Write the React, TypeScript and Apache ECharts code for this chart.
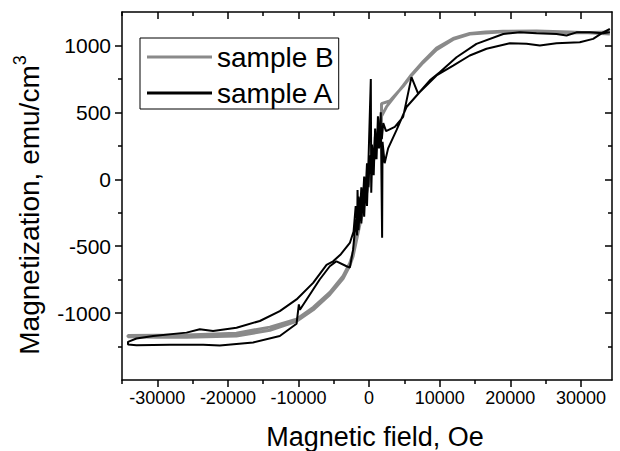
import React, { useEffect, useRef } from "react";
import * as echarts from "echarts";

const FONT = "'Liberation Sans', Arial, Helvetica, sans-serif";

const X_MIN = -35000;
const X_MAX = 34400;
const Y_MIN = -1500;
const Y_MAX = 1250;

const fieldMajorTicks = [-30000, -20000, -10000, 0, 10000, 20000, 30000];
const fieldMinorTicks = [-35000, -25000, -15000, -5000, 5000, 15000, 25000];
const magMajorTicks = [-1000, -500, 0, 500, 1000];
const magMinorTicks = [-1250, -750, -250, 250, 750];

const legendNames = ["sample B", "sample A"];
const xTitle = "Magnetic field, Oe";
const yTitle = "Magnetization, emu/cm";

// sample B: descending branch then ascending branch
const sampleBField = [
  34100, 31000, 28400, 23700, 18980, 16500, 14260, 11900, 9550, 7650, 6000, 4820, 3500, 2500, 1750,
  -2270, -2730, -3680, -5570, -7920, -10280, -14060, -18800, -25880, -30000, -34150,
  -34150, -30000, -25880, -18800, -14060, -10280, -7920, -5570, -3680, -2730, -2270,
  1750, 1750, 2930, 4820, 6000, 7650, 9550, 11900, 14260, 18980, 23700, 28400, 34100,
];
const sampleBMag = [
  1086, 1095, 1100, 1108, 1106, 1100, 1090, 1052, 980, 880, 782, 700, 612, 545, 470,
  -551, -625, -722, -845, -958, -1045, -1105, -1150, -1163, -1165, -1168,
  -1176, -1180, -1180, -1172, -1128, -1062, -976, -862, -742, -645, -575,
  416, 565, 585, 695, 776, 872, 968, 1045, 1085, 1102, 1104, 1094, 1100,
];

// sample A: descending branch then ascending branch
const sampleAField = [
  34100, 33100, 31260, 29370, 27960, 26540, 23700, 21350, 19000, 15200, 12380, 10000, 8600, 6940, 6000,
  4820, 3640, 2400, 2000, 1800, 1600, 1400, 1200, 1000, 800, 600, 400, 250, 100, -100, -300, -500, -700,
  -900, -1100, -1300, -1500, -1700, -1900, -2200, -2730, -4000, -5100, -6030, -7930, -10280, -12650,
  -15480, -18780, -22100, -23980, -25860, -30600, -32950, -34150,
  -34150, -32950, -28230, -23510, -21150, -16430, -12650, -10280, -9950, -9800, -7000, -5570, -4620,
  -3200, -2730, -2270, -2100, -1900, -1700, -1640, -1500, -1300, -1100, -900, -700, -500, -300, -100,
  240, 300, 450, 650, 850, 1050, 1250, 1450, 1650, 1840, 1900, 2200, 2690, 3880, 5300, 7180, 9550,
  11900, 14260, 16630, 19930, 22300, 24180, 26540, 29840, 31730, 33140, 34100,
];
const sampleAMag = [
  1098, 1091, 1098, 1098, 1074, 1086, 1091, 1098, 1086, 1012, 912, 800, 739, 640, 763,
  466, 391, 360, 420, 300, 390, 230, 350, 150, 320, 100, 260, 40, 180, -60, 120, -100, 20,
  -180, -60, -250, -130, -320, -200, -390, -476, -560, -613, -640, -774, -898, -985,
  -1059, -1109, -1134, -1121, -1146, -1171, -1190, -1215,
  -1235, -1240, -1236, -1236, -1242, -1220, -1171, -1080, -935, -975, -749, -650, -613,
  -650, -660, -526, -430, -300, -420, -80, -380, -200, -330, -120, -280, -30, -200, 120,
  750, -100, 200, 30, 380, 150, 470, 260, 500, -437, 280, 120, 231, 367, 540, 652, 776,
  850, 925, 975, 1016, 1012, 999, 1016, 1024, 1049, 1098, 1123,
];

const zip = (xs: number[], ys: number[]) => xs.map((x, i) => [x, ys[i]]);

const lineStyle = { color: "#000", width: 1.5 };
const plain = (v: number) => String(v);

function makeXAxis(position: string, ticks: number[], len: number, inside: boolean, labels: boolean, showLine: boolean) {
  return {
    type: "value",
    position,
    min: X_MIN,
    max: X_MAX,
    axisLine: { show: showLine, onZero: false, lineStyle },
    axisTick: { show: true, inside, length: len, customValues: ticks, lineStyle },
    axisLabel: labels
      ? { show: true, customValues: ticks, formatter: plain, fontSize: 18, fontFamily: FONT, color: "#000", margin: 9 }
      : { show: false },
    splitLine: { show: false },
  };
}

function makeYAxis(position: string, ticks: number[], len: number, inside: boolean, labels: boolean, showLine: boolean) {
  return {
    type: "value",
    position,
    min: Y_MIN,
    max: Y_MAX,
    axisLine: { show: showLine, onZero: false, lineStyle },
    axisTick: { show: true, inside, length: len, customValues: ticks, lineStyle },
    axisLabel: labels
      ? { show: true, customValues: ticks, formatter: plain, fontSize: 21, fontFamily: FONT, color: "#000", margin: 11 }
      : { show: false },
    splitLine: { show: false },
  };
}

export default function App() {
  const ref = useRef<HTMLDivElement>(null);
  useEffect(() => {
    document.body.style.margin = "0";
    const chart = echarts.init(ref.current!, undefined, { renderer: "svg" });
    chart.setOption({
      animation: false,
      backgroundColor: "#fff",
      grid: { left: 122, right: 8, top: 12, bottom: 71 },
      xAxis: [
        makeXAxis("bottom", fieldMajorTicks, 7, false, true, true),
        makeXAxis("bottom", fieldMinorTicks, 4, false, false, false),
        makeXAxis("top", fieldMajorTicks, 7, true, false, true),
        makeXAxis("top", fieldMinorTicks, 4, true, false, false),
      ],
      yAxis: [
        makeYAxis("left", magMajorTicks, 7, false, true, true),
        makeYAxis("left", magMinorTicks, 4, false, false, false),
        makeYAxis("right", magMajorTicks, 7, true, false, true),
        makeYAxis("right", magMinorTicks, 4, true, false, false),
      ],
      legend: {
        show: true,
        left: 140,
        top: 38,
        orient: "vertical",
        backgroundColor: "#fff",
        borderColor: "#000",
        borderWidth: 1,
        padding: [4, 5, 1, 7],
        itemGap: 6,
        itemWidth: 65,
        itemHeight: 3,
        icon: "rect",
        textStyle: { fontSize: 28, fontFamily: FONT, color: "#000", lineHeight: 30 },
        data: legendNames,
      },
      series: [
        {
          type: "line",
          name: legendNames[0],
          xAxisIndex: 0,
          yAxisIndex: 0,
          data: zip(sampleBField, sampleBMag),
          symbol: "none",
          showSymbol: false,
          lineStyle: { color: "#8a8a8a", width: 3 },
          itemStyle: { color: "#8a8a8a" },
          z: 2,
        },
        {
          type: "line",
          name: legendNames[1],
          xAxisIndex: 0,
          yAxisIndex: 0,
          data: zip(sampleAField, sampleAMag),
          symbol: "none",
          showSymbol: false,
          lineStyle: { color: "#000", width: 2 },
          itemStyle: { color: "#000" },
          z: 3,
        },
      ],
      graphic: [
        {
          type: "text",
          x: 375,
          y: 437,
          style: {
            text: xTitle,
            fontSize: 27,
            fontFamily: FONT,
            fill: "#000",
            align: "center",
            verticalAlign: "middle",
            textAlign: "center",
            textVerticalAlign: "middle",
          },
        },
        {
          type: "text",
          x: 27,
          y: 205,
          rotation: Math.PI / 2,
          style: {
            text: "{main|" + yTitle + "}{sup|3}",
            fontSize: 28,
            fontFamily: FONT,
            fill: "#000",
            align: "center",
            verticalAlign: "middle",
            textAlign: "center",
            textVerticalAlign: "middle",
            rich: {
              main: { fontSize: 28, fontFamily: FONT, fill: "#000", verticalAlign: "bottom", lineHeight: 32 },
              sup: { fontSize: 18, fontFamily: FONT, fill: "#000", verticalAlign: "top", lineHeight: 18 },
            },
          },
        },
      ],
    });
    return () => chart.dispose();
  }, []);
  return <div ref={ref} style={{ width: 620, height: 451 }} />;
}
